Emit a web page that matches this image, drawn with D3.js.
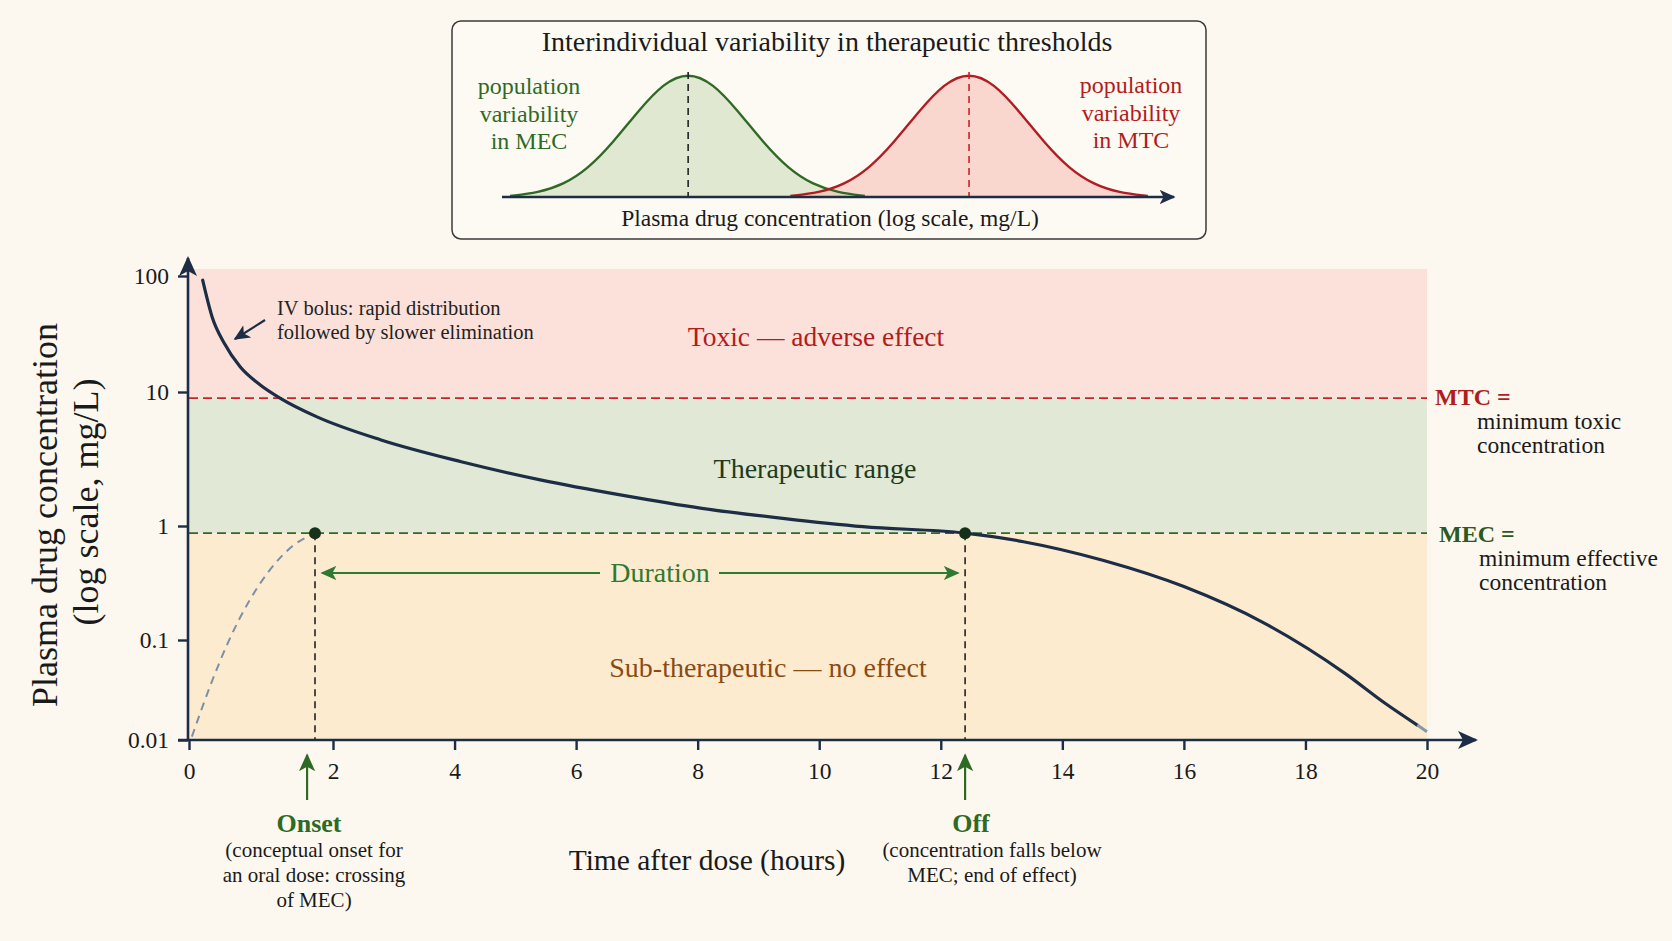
<!DOCTYPE html>
<html>
<head>
<meta charset="utf-8">
<script src="https://cdn.jsdelivr.net/npm/d3@7"></script>
<style>
html, body { margin: 0; padding: 0; background: #fcf8ef; }
svg { display: block; font-family: "Liberation Serif", "DejaVu Serif", serif; }
</style>
</head>
<body>
<div id="chart"></div>
<script>
//! ===== 0. Data ==========================
const timeTicks = [0, 2, 4, 6, 8, 10, 12, 14, 16, 18, 20];
const concTicks = [0.01, 0.1, 1, 10, 100];
const concTickLabels = ["0.01", "0.1", "1", "10", "100"];

// IV bolus curve (hours, mg/L)
const ivTime = [0.19, 0.32, 0.49, 0.71, 0.99, 1.27, 1.77, 2.79, 4.11, 5.43, 6.75, 8.07, 9.40, 10.72, 12.40, 13.36, 14.68, 16.0, 17.33, 18.65, 19.31, 19.84];
const ivConc = [92, 44.6, 26.3, 16.5, 11.5, 8.97, 6.55, 4.39, 3.02, 2.20, 1.70, 1.355, 1.14, 0.986, 0.865, 0.728, 0.498, 0.294, 0.140, 0.0464, 0.0233, 0.0141];
const ivTailTime = [19.84, 20.0];
const ivTailConc = [0.0141, 0.0121];

// conceptual oral dose, rising part
const oralTime = [0.04, 0.32, 0.54, 0.82, 1.10, 1.43, 1.75];
const oralConc = [0.0108, 0.0388, 0.0935, 0.211, 0.394, 0.661, 0.865];

const MTC = 9.0;
const MEC = 0.865;
const zoneTop = 115;
const onsetT = 1.75;
const offT = 12.40;
const onsetArrowT = 1.64;

// inset: population distributions of thresholds (arbitrary log-conc units, relative density)
const mecDistX = [1.2, 5.4, 9.1, 12.8, 16.5, 20.3, 24.0, 27.7, 31.4, 35.1, 38.9, 42.6, 46.3, 50.0, 54.0];
const mecDistY = [0.009, 0.035, 0.098, 0.226, 0.434, 0.690, 0.911, 1, 0.911, 0.690, 0.434, 0.226, 0.098, 0.035, 0.009];
const mtcDistX = [42.9, 47.2, 50.9, 54.6, 58.3, 62.1, 65.8, 69.5, 73.2, 76.9, 80.7, 84.4, 88.1, 91.8, 96.1];
const mtcDistY = [0.009, 0.035, 0.098, 0.226, 0.434, 0.690, 0.911, 1, 0.911, 0.690, 0.434, 0.226, 0.098, 0.035, 0.009];
const mecDistPeak = 27.7;
const mtcDistPeak = 69.5;

//! ===== I. Setup =====
const W = 1672, H = 941;
const navy = "#1c2d45", red = "#b01c20", green = "#2f6a25", brown = "#8a4a12";

const svg = d3.select("#chart").append("svg")
    .attr("width", W).attr("height", H);

svg.append("rect").attr("width", W).attr("height", H).attr("fill", "#fcf8ef");

const defs = svg.append("defs");
function addMarker(id, color, size){
    defs.append("marker")
        .attr("id", id)
        .attr("viewBox", "0 0 10 10")
        .attr("refX", 9).attr("refY", 5)
        .attr("markerUnits", "userSpaceOnUse")
        .attr("markerWidth", size).attr("markerHeight", size)
        .attr("orient", "auto-start-reverse")
      .append("path")
        .attr("d", "M0,0.5 L10,5 L0,9.5 L2.5,5 Z")
        .attr("fill", color);
}
addMarker("arrGreen", "#2e7a30", 16);
addMarker("arrNavy", navy, 16);
addMarker("arrAxis", navy, 20);
addMarker("arrOnset", green, 18);

// scales (piecewise, to follow the drawn tick spacing)
const x = d3.scaleLinear().domain([0, 2, 20]).range([189, 333, 1427]);
const y = d3.scaleLog().domain([0.01, 0.1, 1, 10, 100]).range([740, 640, 526, 392, 276]);

//! ===== II. Zones =====
const zones = [
    {top: zoneTop, bottom: MTC, fill: "#fbe1da"},
    {top: MTC, bottom: MEC, fill: "#e1e8d5"},
    {top: MEC, bottom: 0.01, fill: "#fdebd0"}
];
svg.append("g").selectAll("rect")
    .data(zones).enter().append("rect")
    .attr("x", x(0))
    .attr("width", x(20) - x(0))
    .attr("y", d => y(d.top))
    .attr("height", d => y(d.bottom) - y(d.top))
    .attr("fill", d => d.fill);

// threshold lines
svg.append("line")
    .attr("x1", x(0)).attr("x2", x(20))
    .attr("y1", y(MTC)).attr("y2", y(MTC))
    .attr("stroke", "#c4262b").attr("stroke-width", 1.8).attr("stroke-dasharray", "9,5");
svg.append("line")
    .attr("x1", x(0)).attr("x2", x(20))
    .attr("y1", y(MEC)).attr("y2", y(MEC))
    .attr("stroke", "#2f6a25").attr("stroke-width", 1.8).attr("stroke-dasharray", "9,5");

// vertical onset / off lines
[onsetT, offT].forEach(t => {
    svg.append("line")
        .attr("x1", x(t)).attr("x2", x(t))
        .attr("y1", y(MEC)).attr("y2", y(0.01))
        .attr("stroke", "#222").attr("stroke-width", 1.6).attr("stroke-dasharray", "7,5");
});

// zone labels
svg.append("text").attr("x", 816).attr("y", 346).attr("text-anchor", "middle")
    .attr("font-size", 27.5).attr("fill", red).text("Toxic \u2014 adverse effect");
svg.append("text").attr("x", 815).attr("y", 478).attr("text-anchor", "middle")
    .attr("font-size", 28).attr("fill", "#1f3a1c").text("Therapeutic range");
svg.append("text").attr("x", 768).attr("y", 677).attr("text-anchor", "middle")
    .attr("font-size", 28).attr("fill", brown).text("Sub-therapeutic \u2014 no effect");

//! ===== III. Curves =====
const line = d3.line()
    .x(d => x(d[0])).y(d => y(d[1]))
    .curve(d3.curveMonotoneX);

svg.append("path")
    .datum(oralTime.map((t, i) => [t, oralConc[i]]))
    .attr("d", line)
    .attr("fill", "none").attr("stroke", "#7b90a8").attr("stroke-width", 2)
    .attr("stroke-dasharray", "8,6");

svg.append("path")
    .datum(ivTime.map((t, i) => [t, ivConc[i]]))
    .attr("d", line)
    .attr("fill", "none").attr("stroke", navy).attr("stroke-width", 3.2)
    .attr("stroke-linecap", "round");
svg.append("path")
    .datum(ivTailTime.map((t, i) => [t, ivTailConc[i]]))
    .attr("d", line)
    .attr("fill", "none").attr("stroke", "#8796a8").attr("stroke-width", 3);

// onset / off dots
svg.selectAll("circle.pt")
    .data([onsetT, offT]).enter().append("circle")
    .attr("class", "pt")
    .attr("cx", d => x(d)).attr("cy", y(MEC)).attr("r", 6)
    .attr("fill", "#17301a");

// duration arrow
const durY = 573;
svg.append("line")
    .attr("x1", 600).attr("x2", x(onsetT) + 7)
    .attr("y1", durY).attr("y2", durY)
    .attr("stroke", "#2e7a30").attr("stroke-width", 2)
    .attr("marker-end", "url(#arrGreen)");
svg.append("line")
    .attr("x1", 719).attr("x2", x(offT) - 7)
    .attr("y1", durY).attr("y2", durY)
    .attr("stroke", "#2e7a30").attr("stroke-width", 2)
    .attr("marker-end", "url(#arrGreen)");
svg.append("text").attr("x", 660).attr("y", 582).attr("text-anchor", "middle")
    .attr("font-size", 28).attr("fill", "#2e7a30").text("Duration");

// IV bolus annotation
svg.append("line")
    .attr("x1", 265).attr("y1", 320).attr("x2", 235).attr("y2", 339)
    .attr("stroke", navy).attr("stroke-width", 2.2)
    .attr("marker-end", "url(#arrNavy)");
svg.append("text").attr("x", 277).attr("y", 315).attr("font-size", 20.5).attr("fill", "#222")
    .text("IV bolus: rapid distribution");
svg.append("text").attr("x", 277).attr("y", 339).attr("font-size", 20.5).attr("fill", "#222")
    .text("followed by slower elimination");

//! ===== IV. Axes =====
const yAxis = svg.append("g")
    .attr("transform", `translate(188,0)`)
    .call(d3.axisLeft(y).tickValues(concTicks)
        .tickFormat((d, i) => concTickLabels[i])
        .tickSize(10).tickSizeOuter(0).tickPadding(9));
const xAxis = svg.append("g")
    .attr("transform", `translate(0,740)`)
    .call(d3.axisBottom(x).tickValues(timeTicks)
        .tickFormat(d3.format("d"))
        .tickSize(10).tickSizeOuter(0).tickPadding(12));

[yAxis, xAxis].forEach(g => {
    g.select(".domain").remove();
    g.selectAll(".tick line").attr("stroke", navy).attr("stroke-width", 2.4);
    g.selectAll(".tick text")
        .attr("font-family", "Liberation Serif, serif")
        .attr("font-size", 23.5).attr("fill", "#1a1a1a");
});

svg.append("line")
    .attr("x1", 188).attr("y1", 741).attr("x2", 188).attr("y2", 258)
    .attr("stroke", navy).attr("stroke-width", 2.6)
    .attr("marker-end", "url(#arrAxis)");
svg.append("line")
    .attr("x1", 178).attr("y1", 740).attr("x2", 1476).attr("y2", 740)
    .attr("stroke", navy).attr("stroke-width", 2.6)
    .attr("marker-end", "url(#arrAxis)");

// axis titles
svg.append("text")
    .attr("transform", "translate(57,515) rotate(-90)")
    .attr("text-anchor", "middle").attr("font-size", 36).attr("fill", "#1a1a1a")
    .text("Plasma drug concentration");
svg.append("text")
    .attr("transform", "translate(98,502) rotate(-90)")
    .attr("text-anchor", "middle").attr("font-size", 36).attr("fill", "#1a1a1a")
    .text("(log scale, mg/L)");
svg.append("text").attr("x", 707).attr("y", 870).attr("text-anchor", "middle")
    .attr("font-size", 29.5).attr("fill", "#1a1a1a").text("Time after dose (hours)");

// right-side threshold labels
svg.append("text").attr("x", 1435).attr("y", 405)
    .attr("font-size", 24).attr("font-weight", "bold").attr("fill", red).text("MTC =");
svg.append("text").attr("x", 1477).attr("y", 429).attr("font-size", 23.5).attr("fill", "#1a1a1a").text("minimum toxic");
svg.append("text").attr("x", 1477).attr("y", 453).attr("font-size", 23.5).attr("fill", "#1a1a1a").text("concentration");
svg.append("text").attr("x", 1439).attr("y", 542)
    .attr("font-size", 24).attr("font-weight", "bold").attr("fill", "#2a5a1f").text("MEC =");
svg.append("text").attr("x", 1479).attr("y", 566).attr("font-size", 23.5).attr("fill", "#1a1a1a").text("minimum effective");
svg.append("text").attr("x", 1479).attr("y", 590).attr("font-size", 23.5).attr("fill", "#1a1a1a").text("concentration");

// onset / off markers below axis
svg.append("line")
    .attr("x1", x(onsetArrowT)).attr("x2", x(onsetArrowT))
    .attr("y1", 800).attr("y2", 755)
    .attr("stroke", green).attr("stroke-width", 2.2)
    .attr("marker-end", "url(#arrOnset)");
svg.append("line")
    .attr("x1", x(offT)).attr("x2", x(offT))
    .attr("y1", 800).attr("y2", 755)
    .attr("stroke", green).attr("stroke-width", 2.2)
    .attr("marker-end", "url(#arrOnset)");

function noteBlock(tx, cx, title, lines){
    svg.append("text").attr("x", tx).attr("y", 832).attr("text-anchor", "middle")
        .attr("font-size", 26).attr("font-weight", "bold").attr("fill", green).text(title);
    lines.forEach((l, i) => {
        svg.append("text").attr("x", cx).attr("y", 857 + i * 25).attr("text-anchor", "middle")
            .attr("font-size", 21).attr("fill", "#1a1a1a").text(l);
    });
}
noteBlock(309, 314, "Onset", ["(conceptual onset for", "an oral dose: crossing", "of MEC)"]);
noteBlock(971, 992, "Off", ["(concentration falls below", "MEC; end of effect)"]);

//! ===== V. Inset =====
const inset = svg.append("g");
inset.append("rect")
    .attr("x", 452).attr("y", 21).attr("width", 754).attr("height", 218).attr("rx", 9)
    .attr("fill", "#fdfaf4").attr("stroke", "#3a3a3a").attr("stroke-width", 1.5);

const ix = d3.scaleLinear().domain([0, 100]).range([502, 1174]);
const iy = d3.scaleLinear().domain([0, 1]).range([197, 72]);

const area = d3.area()
    .x(d => ix(d[0])).y0(iy(0)).y1(d => iy(d[1]))
    .curve(d3.curveBasis);
const bell = d3.line()
    .x(d => ix(d[0])).y(d => iy(d[1]))
    .curve(d3.curveBasis);

const mecDist = mecDistX.map((v, i) => [v, mecDistY[i]]);
const mtcDist = mtcDistX.map((v, i) => [v, mtcDistY[i]]);

inset.append("path").datum(mecDist).attr("d", area).attr("fill", "#c9d9b6").attr("opacity", 0.55);
inset.append("path").datum(mtcDist).attr("d", area).attr("fill", "#f6b8ae").attr("opacity", 0.55);
inset.append("path").datum(mecDist).attr("d", bell).attr("fill", "none").attr("stroke", "#2f6a25").attr("stroke-width", 2.4);
inset.append("path").datum(mtcDist).attr("d", bell).attr("fill", "none").attr("stroke", "#b01c20").attr("stroke-width", 2.4);

inset.append("line")
    .attr("x1", ix(mecDistPeak)).attr("x2", ix(mecDistPeak))
    .attr("y1", iy(1)).attr("y2", iy(0))
    .attr("stroke", "#222").attr("stroke-width", 1.6).attr("stroke-dasharray", "7,5");
inset.append("line")
    .attr("x1", ix(mtcDistPeak)).attr("x2", ix(mtcDistPeak))
    .attr("y1", iy(1)).attr("y2", iy(0))
    .attr("stroke", "#c4262b").attr("stroke-width", 1.6).attr("stroke-dasharray", "7,5");

inset.append("line")
    .attr("x1", ix(0)).attr("x2", ix(100))
    .attr("y1", iy(0)).attr("y2", iy(0))
    .attr("stroke", navy).attr("stroke-width", 2.6)
    .attr("marker-end", "url(#arrNavy)");

inset.append("text").attr("x", 827).attr("y", 51).attr("text-anchor", "middle")
    .attr("font-size", 28).attr("fill", "#1a1a1a")
    .text("Interindividual variability in therapeutic thresholds");
inset.append("text").attr("x", 830).attr("y", 226).attr("text-anchor", "middle")
    .attr("font-size", 23.5).attr("fill", "#1a1a1a")
    .text("Plasma drug concentration (log scale, mg/L)");

["population", "variability", "in MEC"].forEach((t, i) => {
    inset.append("text").attr("x", 529).attr("y", 94 + i * 27.5).attr("text-anchor", "middle")
        .attr("font-size", 24).attr("fill", "#2f6a25").text(t);
});
["population", "variability", "in MTC"].forEach((t, i) => {
    inset.append("text").attr("x", 1131).attr("y", 93 + i * 27.5).attr("text-anchor", "middle")
        .attr("font-size", 24).attr("fill", "#b01c20").text(t);
});
</script>
</body>
</html>
